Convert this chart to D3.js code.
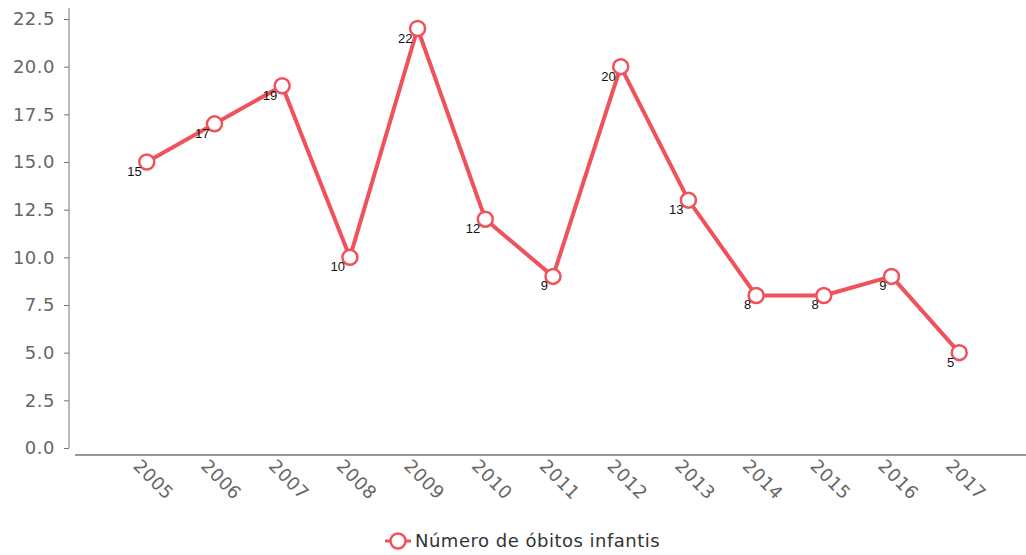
<!DOCTYPE html>
<html lang="en">
<head>
    <meta charset="UTF-8">
    <title>obitos-infantis</title>
    <style>
        body {
            margin: 0;
            background: #fff;
            font-family: "DejaVu Sans", Verdana, sans-serif;
        }
    </style>
    <script src="https://d3js.org/d3.v7.min.js"></script>
</head>
<body>

<script>

    // data
    let years = ["2005", "2006", "2007", "2008", "2009", "2010", "2011", "2012", "2013", "2014", "2015", "2016", "2017"]
    let deaths = [15, 17, 19, 10, 22, 12, 9, 20, 13, 8, 8, 9, 5]
    let yTicks = [0, 2.5, 5, 7.5, 10, 12.5, 15, 17.5, 20, 22.5]
    let seriesName = "Número de óbitos infantis"

    let lineColor = "#f0525c"
    let axisColor = "#777"
    let width = 1026;
    let height = 555;

    let svg = d3.select("body").append("svg")
        .attr("width", width)
        .attr("height", height)

    let x = d3.scalePoint()
        .domain(years)
        .range([75, 1031])
        .padding(1.06)

    let y = d3.scaleLinear()
        .domain([0, 22.5])
        .range([448, 19])

    // y axis
    let yAxis = svg.append("g")
        .attr("transform", "translate(69,0)")
        .call(d3.axisLeft(y).tickValues(yTicks).tickFormat(d3.format(".1f")).tickSize(5).tickSizeOuter(0))
    yAxis.select(".domain").attr("stroke", axisColor).attr("d", "M0,8V448")
    yAxis.selectAll(".tick line").attr("stroke", axisColor)
    yAxis.selectAll(".tick text")
        .attr("fill", "#666")
        .attr("x", -14)
        .style("font-size", "18px")
        .style("letter-spacing", "0.5px")
        .style("font-family", "DejaVu Sans, Verdana, sans-serif")

    // x axis
    let xAxis = svg.append("g")
        .attr("transform", "translate(0,455)")
        .call(d3.axisBottom(x).tickSize(0).tickSizeOuter(0))
    xAxis.select(".domain").attr("stroke", axisColor).attr("stroke-width", 1.5).attr("d", "M75,0H1026")
    xAxis.selectAll(".tick text")
        .attr("fill", "#666")
        .attr("text-anchor", "start")
        .attr("dy", null)
        .attr("y", 0)
        .attr("transform", "translate(-15,12) rotate(45)")
        .style("font-size", "18px")
        .style("letter-spacing", "0.5px")
        .style("font-family", "DejaVu Sans, Verdana, sans-serif")

    // line
    let line = d3.line()
        .x((d, i) => x(years[i]))
        .y(d => y(d))

    svg.append("path")
        .datum(deaths)
        .attr("fill", "none")
        .attr("stroke", lineColor)
        .attr("stroke-width", 4)
        .attr("stroke-linejoin", "round")
        .attr("d", line)

    svg.append("g")
        .selectAll("circle")
        .data(deaths)
        .enter()
        .append("circle")
        .attr("cx", (d, i) => x(years[i]))
        .attr("cy", d => y(d))
        .attr("r", 7.5)
        .attr("fill", "#fff")
        .attr("stroke", lineColor)
        .attr("stroke-width", 2.5)

    // value labels
    svg.append("g")
        .selectAll("text")
        .data(deaths)
        .enter()
        .append("text")
        .attr("x", (d, i) => x(years[i]) - 5)
        .attr("y", d => y(d) + 14)
        .attr("text-anchor", "end")
        .attr("fill", "#111")
        .style("font-family", "Liberation Sans, Arial, sans-serif")
        .style("font-size", "13px")
        .text(d => d)

    // legend
    let legend = svg.append("g").attr("transform", "translate(398,541)")
    legend.append("line")
        .attr("x1", -13).attr("x2", 13)
        .attr("stroke", lineColor).attr("stroke-width", 3)
    legend.append("circle")
        .attr("r", 7.5)
        .attr("fill", "#fff")
        .attr("stroke", lineColor)
        .attr("stroke-width", 2.5)
    legend.append("text")
        .attr("x", 17)
        .attr("y", 6)
        .attr("fill", "#333")
        .style("font-size", "18px")
        .style("letter-spacing", "0.5px")
        .text(seriesName)

</script>

</body>
</html>
